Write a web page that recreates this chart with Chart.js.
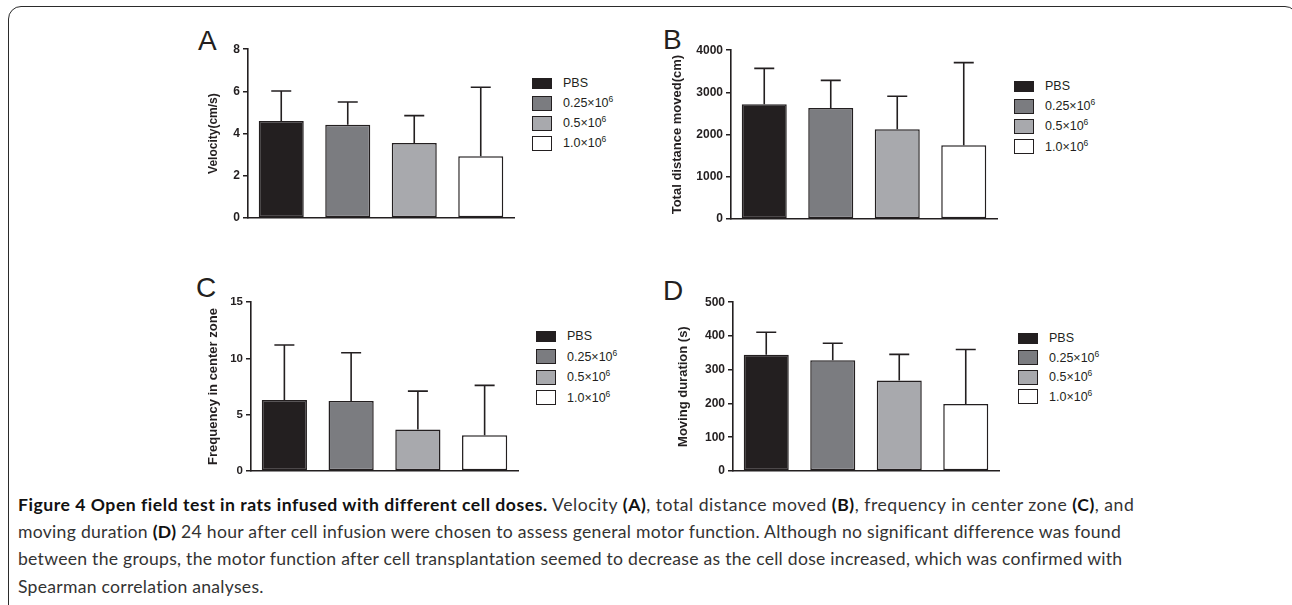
<!DOCTYPE html>
<html>
<head>
<meta charset="utf-8">
<script src="https://cdn.jsdelivr.net/npm/chart.js@4.4.1/dist/chart.umd.min.js"></script>
<style>
html, body { margin: 0; padding: 0; background: #fff; width: 1292px; height: 605px; overflow: hidden; position: relative; }
.frame { position: absolute; left: 8px; top: 6px; width: 1290px; height: 660px; border: 1.7px solid #2b2b2b; border-radius: 13px; box-sizing: border-box; }
canvas { position: absolute; }
.letter { position: absolute; font: 28px "Liberation Sans", Arial, sans-serif; color: #231f20; line-height: 28px; }
.legend { position: absolute; font: 12.5px "Liberation Sans", Arial, sans-serif; color: #231f20; }
.row { position: absolute; left: 0; height: 20px; width: 120px; white-space: nowrap; }
.sw { position: absolute; left: 0; box-sizing: border-box; border: 1.5px solid #231f20; width: 20px; }
.lt { position: absolute; left: 31px; top: 3px; line-height: 14px; }
.lt sup { font-size: 8.5px; vertical-align: 5px; line-height: 0; }
.caption { position: absolute; left: 18px; top: 491px; font: 17.6px Lato, "Open Sans", sans-serif; line-height: 27.2px; color: #333; }
.caption div { white-space: nowrap; display: block; width: max-content; }
.caption b { color: #111; }
</style>
</head>
<body>
<div class="frame"></div>

<div class="letter" style="left:198px;top:27px">A</div>
<div class="letter" style="left:663px;top:26px">B</div>
<div class="letter" style="left:196px;top:274px">C</div>
<div class="letter" style="left:663px;top:277px">D</div>

<canvas id="chartA" width="314" height="197" style="left:202px;top:39px"></canvas>
<canvas id="chartB" width="333" height="197" style="left:666px;top:40px"></canvas>
<canvas id="chartC" width="318" height="197" style="left:202px;top:292px"></canvas>
<canvas id="chartD" width="329" height="197" style="left:672px;top:292px"></canvas>

<div class="legend" id="legA" style="left:532px;top:73px"></div>
<div class="legend" id="legB" style="left:1014px;top:76px"></div>
<div class="legend" id="legC" style="left:536px;top:326px"></div>
<div class="legend" id="legD" style="left:1018px;top:328px"></div>

<div class="caption">
  <div data-w="1115"><b>Figure 4 Open field test in rats infused with different cell doses.</b> Velocity <b>(A)</b>, total distance moved <b>(B)</b>, frequency in center zone <b>(C)</b>, and</div>
  <div data-w="1102">moving duration <b>(D)</b> 24 hour after cell infusion were chosen to assess general motor function. Although no significant difference was found</div>
  <div data-w="1104">between the groups, the motor function after cell transplantation seemed to decrease as the cell dose increased, which was confirmed with</div>
  <div>Spearman correlation analyses.</div>
</div>

<script>
// groups (legend / categories)
const groups = ['PBS', '0.25×10^6', '0.5×10^6', '1.0×10^6'];
const groupColors = ['#231f20', '#7b7c80', '#a8a9ad', '#ffffff'];

// A: velocity
const velocityMean = [4.60, 4.42, 3.56, 2.93];
const velocitySD = [1.42, 1.08, 1.29, 3.27];
const velocityTicks = [0, 2, 4, 6, 8];

// B: total distance moved
const distanceMean = [2720, 2630, 2125, 1750];
const distanceSD = [850, 655, 785, 1955];
const distanceTicks = [0, 1000, 2000, 3000, 4000];

// C: frequency in center zone
const frequencyMean = [6.30, 6.22, 3.68, 3.17];
const frequencySD = [4.89, 4.28, 3.41, 4.43];
const frequencyTicks = [0, 5, 10, 15];

// D: moving duration
const durationMean = [344.6, 327.7, 268.0, 198.6];
const durationSD = [66.4, 50.8, 77.5, 161.4];
const durationTicks = [0, 100, 200, 300, 400, 500];

const ink = '#231f20';

// upward-only error bars with a cap
const errorBars = {
  id: 'errorBars',
  afterDatasetsDraw(chart) {
    const ctx = chart.ctx;
    const y = chart.scales.y;
    const ds = chart.data.datasets[0];
    const meta = chart.getDatasetMeta(0);
    ctx.save();
    ctx.strokeStyle = ink;
    ctx.lineWidth = 1.6;
    meta.data.forEach((bar, i) => {
      const top = y.getPixelForValue(ds.data[i] + ds.sd[i]);
      ctx.beginPath();
      ctx.moveTo(bar.x, bar.y);
      ctx.lineTo(bar.x, top);
      ctx.moveTo(bar.x - 10, top);
      ctx.lineTo(bar.x + 10, top);
      ctx.stroke();
    });
    ctx.restore();
  }
};

function makePanel(id, means, sds, ticks, title, titleSize, tickSize, axisWidth) {
  const ctx = document.getElementById(id).getContext('2d');
  return new Chart(ctx, {
    type: 'bar',
    data: {
      labels: groups,
      datasets: [{
        data: means,
        sd: sds,
        backgroundColor: groupColors,
        borderColor: ink,
        borderWidth: 1.5,
        borderSkipped: false,
        categoryPercentage: 1,
        barPercentage: 0.677
      }]
    },
    options: {
      responsive: false,
      devicePixelRatio: 1,
      animation: false,
      layout: { padding: { top: 10, bottom: 10, left: 0, right: 2 } },
      plugins: { legend: { display: false }, tooltip: { enabled: false } },
      scales: {
        x: {
          grid: { display: false },
          ticks: { display: false },
          border: { display: true, color: ink, width: 1.6 }
        },
        y: {
          min: ticks[0],
          max: ticks[ticks.length - 1],
          afterBuildTicks: s => { s.ticks = ticks.map(v => ({ value: v })); },
          afterFit: s => { s.width = axisWidth; },
          grid: { display: true, drawOnChartArea: false, drawTicks: true, tickLength: 5, color: ink, lineWidth: 1.5 },
          border: { display: true, color: ink, width: 1.6 },
          ticks: {
            color: ink,
            padding: 3,
            callback: v => String(v),
            font: { family: '"Liberation Sans", Arial, sans-serif', size: tickSize, weight: 'bold' }
          },
          title: {
            display: true,
            text: title,
            color: ink,
            padding: { top: 4, bottom: 0 },
            font: { family: '"Liberation Sans", Arial, sans-serif', size: titleSize, weight: 'bold' }
          }
        }
      }
    },
    plugins: [errorBars]
  });
}

makePanel('chartA', velocityMean, velocitySD, velocityTicks, 'Velocity(cm/s)', 12, 12, 46);
makePanel('chartB', distanceMean, distanceSD, distanceTicks, 'Total distance moved(cm)', 13, 12, 65);
makePanel('chartC', frequencyMean, frequencySD, frequencyTicks, 'Frequency in center zone', 13, 11.5, 49);
makePanel('chartD', durationMean, durationSD, durationTicks, 'Moving duration (s)', 13, 12, 61);

function buildLegend(id, pitch) {
  const el = document.getElementById(id);
  groups.forEach((g, i) => {
    const row = document.createElement('div');
    row.className = 'row';
    row.style.top = (i * pitch) + 'px';
    const sw = document.createElement('div');
    sw.className = 'sw';
    const h = i === 0 ? 11 : 15;
    sw.style.height = h + 'px';
    sw.style.top = ((20 - h) / 2) + 'px';
    sw.style.background = groupColors[i];
    const lt = document.createElement('div');
    lt.className = 'lt';
    const parts = g.split('^');
    lt.textContent = parts[0];
    if (parts[1]) {
      const sup = document.createElement('sup');
      sup.textContent = parts[1];
      lt.appendChild(sup);
    }
    row.appendChild(sw);
    row.appendChild(lt);
    el.appendChild(row);
  });
}
buildLegend('legA', 20);
buildLegend('legB', 20.2);
buildLegend('legC', 20.5);
buildLegend('legD', 19.6);

// stretch caption lines to the widths of the original
function fitCaption() {
  const lines = document.querySelectorAll('.caption div');
  let last = 0;
  lines.forEach(line => {
    line.style.letterSpacing = '0px';
    const target = parseFloat(line.dataset.w || 0);
    const n = line.textContent.length;
    if (target) {
      const w = line.getBoundingClientRect().width;
      last = (target - w) / (n - 1);
    }
    line.style.letterSpacing = last + 'px';
  });
}
fitCaption();
if (document.fonts) document.fonts.ready.then(fitCaption);
</script>
</body>
</html>
